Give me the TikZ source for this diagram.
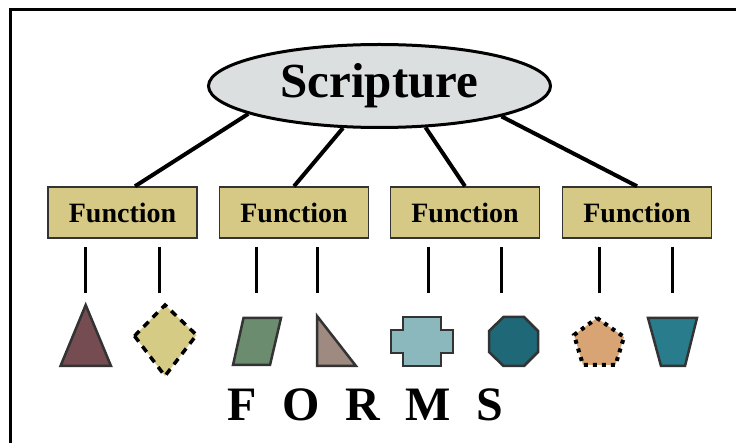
\documentclass[tikz,border=0pt]{standalone}
\usepackage{fontspec}
\setmainfont{Liberation Serif}
\usetikzlibrary{shapes.geometric}

\definecolor{ovalfill}{HTML}{DCDFE0}
\definecolor{boxfill}{HTML}{D5C985}
\definecolor{edgegray}{HTML}{333333}
\definecolor{triA}{HTML}{744C52}
\definecolor{diaA}{HTML}{D6CB84}
\definecolor{parA}{HTML}{6B8C6E}
\definecolor{rtriA}{HTML}{9E8A80}
\definecolor{crossA}{HTML}{8AB8BC}
\definecolor{octA}{HTML}{1F6878}
\definecolor{pentA}{HTML}{D8A474}
\definecolor{trapA}{HTML}{287C8C}

\tikzset{
  rootoval/.style={ellipse, draw=black, line width=3pt, fill=ovalfill,
    minimum width=342pt, minimum height=83pt, inner sep=0pt,
    font=\fontsize{49}{49}\selectfont\bfseries},
  funcbox/.style={rectangle, draw=edgegray, line width=1.5pt, fill=boxfill,
    minimum width=149pt, minimum height=51pt, inner sep=0pt,
    font=\fontsize{28}{28}\selectfont\bfseries},
  branch/.style={draw=black, line width=4pt},
  stub/.style={draw=black, line width=3pt},
  formshape/.style={draw=edgegray, line width=2.5pt, line join=miter},
  dashshape/.style={draw=black, line width=3.5pt, dash pattern=on 7pt off 6pt},
  dotshape/.style={draw=black, line width=4pt, dash pattern=on 4pt off 5pt},
  letter/.style={anchor=base, inner sep=0pt, font=\fontsize{48}{48}\selectfont\bfseries},
  frameline/.style={draw=black, line width=3pt}
}

\begin{document}
\begin{tikzpicture}[x=1pt, y=-1pt]
  \useasboundingbox (0,0) rectangle (736,443);
  \clip (0,0) rectangle (736,443);

  % outer frame (runs past the right and bottom edges)
  \draw[frameline] (10,460) -- (10,10) -- (760,10);

  % root and the four functions
  \node[rootoval] (scr) at (379.5,86) {Scripture};
  \node[funcbox] (f1) at (122.5,212.5) {Function};
  \node[funcbox] (f2) at (294,212.5) {Function};
  \node[funcbox] (f3) at (465,212.5) {Function};
  \node[funcbox] (f4) at (637,212.5) {Function};

  % branches from the root down to each function
  \draw[branch] (scr.192) -- ([xshift=12.5pt]f1.north);
  \draw[branch] (scr.229) -- (f2.north);
  \draw[branch] (scr.318) -- (f3.north);
  \draw[branch] (scr.346) -- (f4.north);

  % short stubs under each function
  \foreach \i/\x in {1/85.7, 2/159, 3/256.7, 4/317.7, 5/428, 6/501.7, 7/599, 8/672.7} {
    \coordinate (st\i) at (\x,247);
    \coordinate (sb\i) at (\x,293);
    \draw[stub] (st\i) -- (sb\i);
  }

  % the forms
  % triangle
  \draw[formshape, fill=triA] (85.7,305) -- (111,366) -- (60.5,366) -- cycle;
  % diamond
  \draw[dashshape, fill=diaA] (134.5,336) -- (165,305) -- (196.5,335) -- (165,376) -- cycle;
  % parallelogram
  \draw[formshape, fill=parA] (243.5,318) -- (281,318) -- (270,365) -- (233,365) -- cycle;
  % right triangle
  \draw[formshape, fill=rtriA] (317,316) -- (356,366) -- (317,366) -- cycle;
  % cross
  \draw[formshape, fill=crossA] (403,317) -- (441,317) -- (441,330) -- (453,330)
    -- (453,353) -- (441,353) -- (441,366) -- (403,366) -- (403,353) -- (391,353)
    -- (391,330) -- (403,330) -- cycle;
  % octagon
  \draw[formshape, fill=octA] (503.5,317) -- (524,317) -- (538,331) -- (538,352)
    -- (524,366) -- (503.5,366) -- (489,352) -- (489,331) -- cycle;
  % pentagon
  \draw[dotshape, fill=pentA] (597,318) -- (624,337) -- (615.5,365) -- (583,365) -- (574,335) -- cycle;
  % inverted trapezoid
  \draw[formshape, fill=trapA] (648,318) -- (697,318) -- (685,366) -- (661,366) -- cycle;

  % caption
  \node[letter] (lF) at (242.5,420) {F};
  \node[letter] (lO) at (301,420) {O};
  \node[letter] (lR) at (362.5,420) {R};
  \node[letter] (lM) at (428.5,420) {M};
  \node[letter] (lS) at (490,420) {S};
\end{tikzpicture}
\end{document}
